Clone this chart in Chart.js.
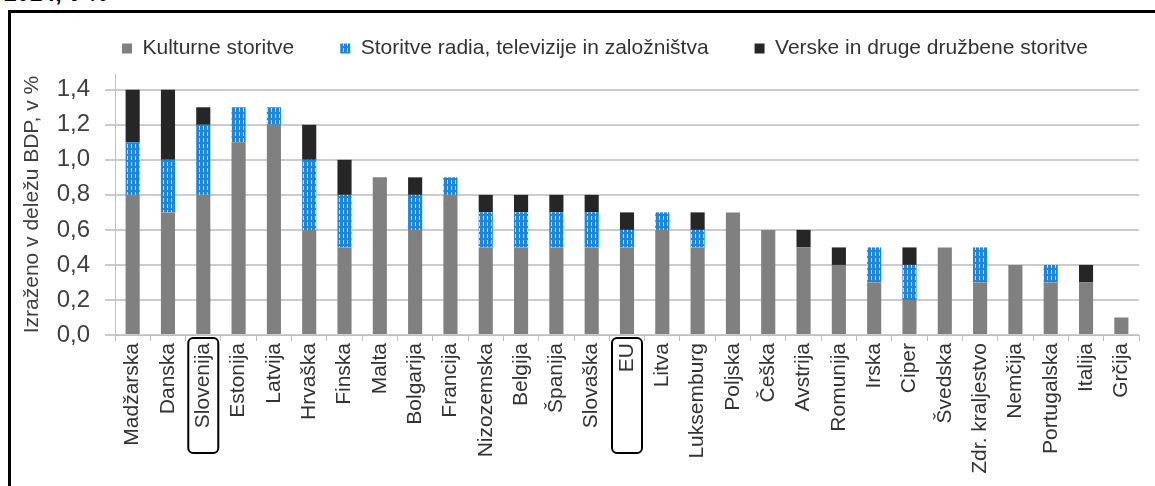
<!DOCTYPE html>
<html>
<head>
<meta charset="utf-8">
<script src="https://cdn.jsdelivr.net/npm/chart.js@4.4.0/dist/chart.umd.min.js"></script>
<style>
  body { margin: 0; background: #fff; width: 1155px; height: 486px; overflow: hidden; position: relative; }
  #frame { position: absolute; left: 8px; top: 10px; width: 1200px; height: 520px; border-left: 3px solid #000; border-top: 3px solid #000; }
  #top { position: absolute; left: 4px; top: -20px; font: bold 23px "Liberation Sans", Arial, sans-serif; color: #000; }
  #wrap { position: absolute; left: 0; top: 0; width: 1155px; height: 486px; }
</style>
</head>
<body>
<div id="top">2014, v %</div>
<div id="frame"></div>
<div id="wrap"><canvas id="servicesChart"></canvas></div>
<script>
// countries, sorted by total
const countries = ['Madžarska', 'Danska', 'Slovenija', 'Estonija', 'Latvija', 'Hrvaška', 'Finska', 'Malta',
  'Bolgarija', 'Francija', 'Nizozemska', 'Belgija', 'Španija', 'Slovaška', 'EU', 'Litva', 'Luksemburg',
  'Poljska', 'Češka', 'Avstrija', 'Romunija', 'Irska', 'Ciper', 'Švedska', 'Zdr. kraljestvo', 'Nemčija',
  'Portugalska', 'Italija', 'Grčija'];

const cultural = [0.8, 0.7, 0.8, 1.1, 1.2, 0.6, 0.5, 0.9, 0.6, 0.8, 0.5, 0.5, 0.5, 0.5, 0.5, 0.6, 0.5,
  0.7, 0.6, 0.5, 0.4, 0.3, 0.2, 0.5, 0.3, 0.4, 0.3, 0.3, 0.1];
const broadcasting = [0.3, 0.3, 0.4, 0.2, 0.1, 0.4, 0.3, 0, 0.2, 0.1, 0.2, 0.2, 0.2, 0.2, 0.1, 0.1, 0.1,
  0, 0, 0, 0, 0.2, 0.2, 0, 0.2, 0, 0.1, 0, 0];
const religious = [0.3, 0.4, 0.1, 0, 0, 0.2, 0.2, 0, 0.1, 0, 0.1, 0.1, 0.1, 0.1, 0.1, 0, 0.1,
  0, 0, 0.1, 0.1, 0, 0.1, 0, 0, 0, 0, 0.1, 0];

const yTicks = [0, 0.2, 0.4, 0.6, 0.8, 1.0, 1.2, 1.4];
const boxed = ['Slovenija', 'EU'];

// striped blue fill like the original
function stripes() {
  const c = document.createElement('canvas');
  c.width = 4; c.height = 6;
  const g = c.getContext('2d');
  g.fillStyle = '#1c86d8';
  g.fillRect(0, 0, 4, 6);
  g.fillStyle = '#c4e2f8';
  g.fillRect(3, 0, 1, 4);
  return g.createPattern(c, 'repeat');
}
const blueFill = stripes();

// legend starts just right of the y axis and sits a bit higher, like in the original
const legendPlace = {
  id: 'legendPlace',
  afterLayout(chart) {
    const pad = chart.options.plugins.legend.labels.padding;
    chart.legend.left = 122 - pad;
    chart.legend.top -= 5;
  }
};

const labelBoxes = {
  id: 'labelBoxes',
  afterDraw(chart) {
    const ctx = chart.ctx;
    const x = chart.scales.x;
    ctx.save();
    ctx.strokeStyle = '#000';
    ctx.lineWidth = 2;
    boxed.forEach(name => {
      const cx = x.getPixelForValue(countries.indexOf(name));
      ctx.beginPath();
      ctx.roundRect(cx - 15, 338, 30, 115, 5);
      ctx.stroke();
    });
    ctx.restore();
  }
};

const font = '"Liberation Sans", Arial, sans-serif';

new Chart(document.getElementById('servicesChart'), {
  type: 'bar',
  data: {
    labels: countries,
    datasets: [
      { label: 'Kulturne storitve', data: cultural, backgroundColor: '#808080' },
      { label: 'Storitve radia, televizije in založništva', data: broadcasting, backgroundColor: blueFill },
      { label: 'Verske in druge družbene storitve', data: religious, backgroundColor: '#262626' }
    ]
  },
  options: {
    responsive: true,
    maintainAspectRatio: false,
    animation: false,
    layout: { padding: { left: 20, right: 16, top: -3, bottom: 0 } },
    datasets: { bar: { categoryPercentage: 1, barPercentage: 0.4 } },
    plugins: {
      tooltip: { enabled: false },
      legend: {
        position: 'top',
        align: 'start',
        fullSize: true,
        labels: { boxWidth: 10, boxHeight: 10, padding: 46, color: '#333', font: { family: font, size: 21 } }
      }
    },
    scales: {
      x: {
        stacked: true,
        afterFit: s => { s.height = 151; },
        border: { color: '#bfbfbf' },
        grid: { offset: true, drawOnChartArea: false, tickLength: 6, color: '#bfbfbf' },
        ticks: { minRotation: 90, maxRotation: 90, autoSkip: false, padding: 2, color: '#333', font: { family: font, size: 21 } }
      },
      y: {
        stacked: true,
        min: 0,
        max: 1.49,
        afterFit: s => { s.width = 95; },
        afterBuildTicks: s => { s.ticks = yTicks.map(v => ({ value: v })); },
        border: { color: '#bfbfbf' },
        grid: { color: '#cccccc', lineWidth: 2, tickLength: 10 },
        ticks: {
          padding: 15, color: '#404040', font: { family: font, size: 24 },
          callback: v => v.toFixed(1).replace('.', ',')
        },
        title: { display: true, text: 'Izraženo v deležu BDP, v %', color: '#404040', font: { family: font, size: 21 }, padding: 0 }
      }
    }
  },
  plugins: [legendPlace, labelBoxes]
});
</script>
</body>
</html>
